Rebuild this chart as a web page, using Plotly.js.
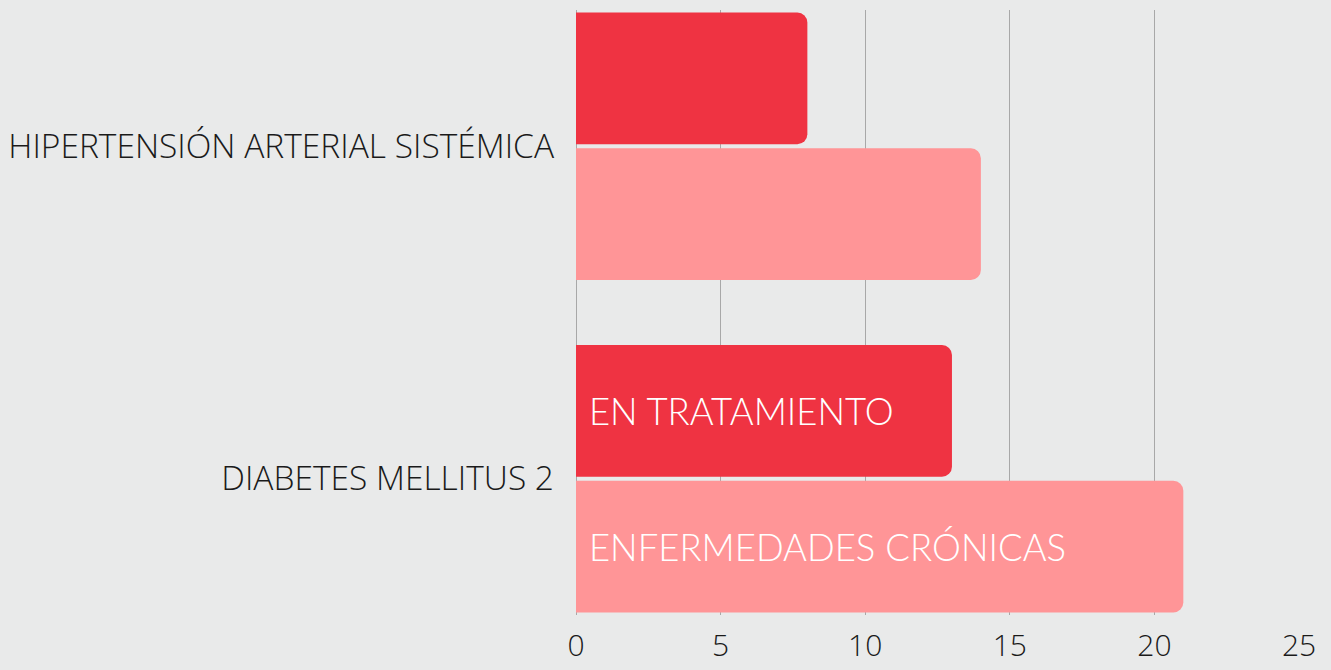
<!DOCTYPE html>
<html>
<head>
<meta charset="utf-8">
<script src="https://cdn.plot.ly/plotly-3.0.1.min.js"></script>
<style>
html,body{margin:0;padding:0;background:#e9eaea;}
#chart{width:1331px;height:670px;}
</style>
</head>
<body>
<div id="chart"></div>
<script>
const categories = ['DIABETES MELLITUS 2', 'HIPERTENSIÓN ARTERIAL SISTÉMICA'];
const seriesNames = ['ENFERMEDADES CRÓNICAS', 'EN TRATAMIENTO'];
const cronicas = [21, 14];
const tratamiento = [13, 8];
const cronicasLabels = ['ENFERMEDADES CRÓNICAS', ''];
const tratamientoLabels = ['EN TRATAMIENTO', ''];
const xTicks = [0, 5, 10, 15, 20, 25];

const textFont = {family: 'Lato, "Open Sans", sans-serif', size: 36.5, weight: 300, color: '#ffffff'};

const traces = [
  {
    type: 'bar', orientation: 'h', name: seriesNames[0],
    y: categories, x: cronicas, text: cronicasLabels,
    textposition: 'inside', insidetextanchor: 'start',
    texttemplate: ' %{text}',
    textfont: textFont, insidetextfont: textFont,
    marker: {color: '#ff9597'}, hoverinfo: 'none'
  },
  {
    type: 'bar', orientation: 'h', name: seriesNames[1],
    y: categories, x: tratamiento, text: tratamientoLabels,
    textposition: 'inside', insidetextanchor: 'start',
    texttemplate: ' %{text}',
    textfont: textFont, insidetextfont: textFont,
    marker: {color: '#ef3342'}, hoverinfo: 'none'
  }
];

const layout = {
  width: 1331, height: 670,
  paper_bgcolor: '#e9eaea', plot_bgcolor: 'rgba(0,0,0,0)',
  margin: {l: 576, r: 32, t: 10, b: 55},
  barmode: 'group', bargap: 0.183, bargroupgap: 0.03,
  barcornerradius: 10,
  showlegend: false,
  uniformtext: {mode: false},
  font: {family: '"Open Sans", sans-serif', color: '#1a1a1a'},
  xaxis: {
    range: [0, 25], tickvals: xTicks, ticktext: xTicks.map(String),
    showgrid: true, gridcolor: '#a8a8a8', gridwidth: 1,
    zeroline: true, zerolinecolor: '#a8a8a8', zerolinewidth: 1,
    showline: false, ticks: '',
    tickfont: {family: '"Open Sans", sans-serif', size: 30, weight: 300, color: '#1a1a1a'},
    ticklabelstandoff: 10, fixedrange: true
  },
  yaxis: {
    type: 'category', range: [-0.41, 1.41],
    showgrid: false, zeroline: false, showline: false, ticks: '',
    tickfont: {family: '"Open Sans", sans-serif', size: 33.5, weight: 300, color: '#1a1a1a'},
    ticklabelstandoff: 21, fixedrange: true
  }
};

Plotly.newPlot('chart', traces, layout, {displayModeBar: false, staticPlot: true});
</script>
</body>
</html>
